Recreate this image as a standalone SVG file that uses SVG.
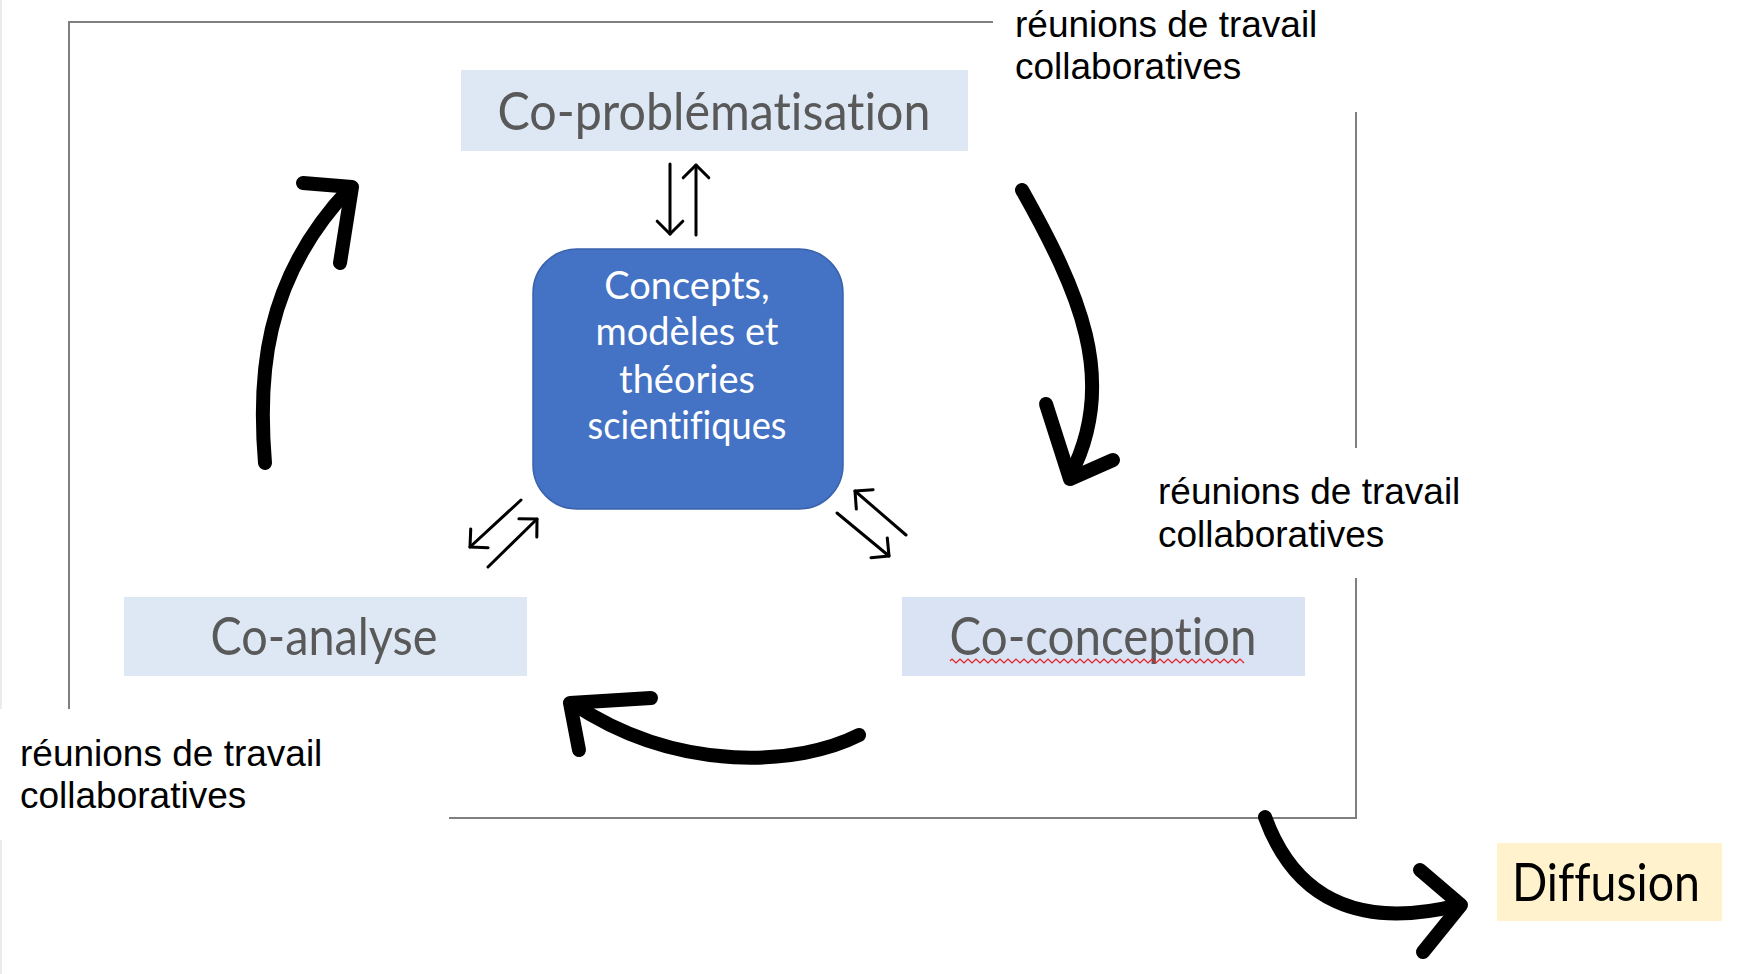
<svg xmlns="http://www.w3.org/2000/svg" width="1750" height="974" viewBox="0 0 1750 974">
<style>
.frame{stroke:#7f7f7f;stroke-width:2;fill:none}
.label{font-family:"Liberation Sans",Arial,sans-serif;font-size:37px;fill:#000}
.box{fill:#dde8f4}
.btxt{font-family:Lato,"Open Sans",sans-serif;font-size:52px;fill:#595959;text-anchor:middle;font-variant-ligatures:none}
.ctxt{font-family:Lato,"Open Sans",sans-serif;font-size:38px;fill:#fff;text-anchor:middle;font-variant-ligatures:none}
.thick{fill:none;stroke:#000;stroke-width:14;stroke-linecap:round;stroke-linejoin:round}
.thin{fill:none;stroke:#000;stroke-width:3;stroke-linecap:round;marker-end:url(#head)}
</style>
<defs>
<marker id="head" viewBox="0 0 20 20" refX="10" refY="10" markerWidth="32" markerHeight="32" markerUnits="userSpaceOnUse" orient="auto">
<path d="M2,2 L10,10 L2,18" fill="none" stroke="#000" stroke-width="1.9" stroke-linecap="round" stroke-linejoin="round"/>
</marker>
</defs>
<rect width="1750" height="974" fill="#fff"/>
<g id="frame">
<line x1="1" y1="0" x2="1" y2="709" stroke="#ebebeb" stroke-width="2"/>
<line x1="1" y1="840" x2="1" y2="974" stroke="#ebebeb" stroke-width="2"/>
<polyline class="frame" points="993,22 69,22 69,709"/>
<polyline class="frame" points="449,818 1356,818 1356,578"/>
<line class="frame" x1="1356" y1="112" x2="1356" y2="448"/>
</g>
<g id="label-top">
<text class="label" x="1015" y="37">réunions de travail</text>
<text class="label" x="1015" y="79">collaboratives</text>
</g>
<g id="label-right">
<text class="label" x="1158" y="504">réunions de travail</text>
<text class="label" x="1158" y="547">collaboratives</text>
</g>
<g id="label-left">
<text class="label" x="20" y="766">réunions de travail</text>
<text class="label" x="20" y="808">collaboratives</text>
</g>
<g id="co-problematisation">
<rect class="box" x="461" y="70" width="507" height="81"/>
<text class="btxt" x="714" y="130" textLength="433" lengthAdjust="spacingAndGlyphs">Co-problématisation</text>
</g>
<g id="concepts">
<rect x="533" y="249" width="310" height="260" rx="44" ry="44" fill="#4472c4" stroke="#3a62ad" stroke-width="1.5"/>
<text class="ctxt" x="687" y="299">Concepts,</text>
<text class="ctxt" x="687" y="345">modèles et</text>
<text class="ctxt" x="687" y="393">théories</text>
<text class="ctxt" x="687" y="439" textLength="199" lengthAdjust="spacingAndGlyphs">scientifiques</text>
</g>
<g id="co-analyse">
<rect class="box" x="124" y="597" width="403" height="79"/>
<text class="btxt" x="324" y="655" textLength="227" lengthAdjust="spacingAndGlyphs">Co-analyse</text>
</g>
<g id="co-conception">
<rect x="902" y="597" width="403" height="79" fill="#dae3f3"/>
<text class="btxt" x="1103" y="655" textLength="307" lengthAdjust="spacingAndGlyphs">Co-conception</text>
<path d="M950,661 l2,-2 l2,2 l2,2 l2,-2 l2,-2 l2,2 l2,2 l2,-2 l2,-2 l2,2 l2,2 l2,-2 l2,-2 l2,2 l2,2 l2,-2 l2,-2 l2,2 l2,2 l2,-2 l2,-2 l2,2 l2,2 l2,-2 l2,-2 l2,2 l2,2 l2,-2 l2,-2 l2,2 l2,2 l2,-2 l2,-2 l2,2 l2,2 l2,-2 l2,-2 l2,2 l2,2 l2,-2 l2,-2 l2,2 l2,2 l2,-2 l2,-2 l2,2 l2,2 l2,-2 l2,-2 l2,2 l2,2 l2,-2 l2,-2 l2,2 l2,2 l2,-2 l2,-2 l2,2 l2,2 l2,-2 l2,-2 l2,2 l2,2 l2,-2 l2,-2 l2,2 l2,2 l2,-2 l2,-2 l2,2 l2,2 l2,-2 l2,-2 l2,2 l2,2 l2,-2 l2,-2 l2,2 l2,2 l2,-2 l2,-2 l2,2 l2,2 l2,-2 l2,-2 l2,2 l2,2 l2,-2 l2,-2 l2,2 l2,2 l2,-2 l2,-2 l2,2 l2,2 l2,-2 l2,-2 l2,2 l2,2 l2,-2 l2,-2 l2,2 l2,2 l2,-2 l2,-2 l2,2 l2,2 l2,-2 l2,-2 l2,2 l2,2 l2,-2 l2,-2 l2,2 l2,2 l2,-2 l2,-2 l2,2 l2,2 l2,-2 l2,-2 l2,2 l2,2 l2,-2 l2,-2 l2,2 l2,2 l2,-2 l2,-2 l2,2 l2,2 l2,-2 l2,-2 l2,2 l2,2 l2,-2 l2,-2 l2,2 l2,2 l2,-2 l2,-2 l2,2 l2,2 l2,-2 l2,-2 l2,2 l2,2" fill="none" stroke="#e3262b" stroke-width="1.2"/>
</g>
<g id="diffusion">
<rect x="1497" y="843" width="225" height="78" fill="#fff2cc"/>
<text class="btxt" x="1606" y="901" style="fill:#000" textLength="188" lengthAdjust="spacingAndGlyphs">Diffusion</text>
</g>
<g id="connectors">
<path class="thick" d="M265,463 C258,380 262,280 350,188"/>
<polyline class="thick" points="303,183 352,187 340,263"/>
<path class="thick" d="M1022,190 C1078,290 1120,380 1070,476"/>
<polyline class="thick" points="1046,404 1070,479 1113,460"/>
<path class="thick" d="M859,735 C800,765 680,775 572,703"/>
<polyline class="thick" points="651,698 570,703 579,750"/>
<path class="thick" d="M1265,817 C1295,900 1360,930 1459,905"/>
<polyline class="thick" points="1420,870 1461,905 1423,952"/>
<line class="thin" x1="670" y1="164" x2="670" y2="234"/>
<line class="thin" x1="696" y1="235" x2="696" y2="165"/>
<line class="thin" x1="521" y1="500" x2="470" y2="547"/>
<line class="thin" x1="488" y1="567" x2="537" y2="519"/>
<line class="thin" x1="837" y1="513" x2="889" y2="556"/>
<line class="thin" x1="906" y1="535" x2="855" y2="491"/>
</g>
</svg>
